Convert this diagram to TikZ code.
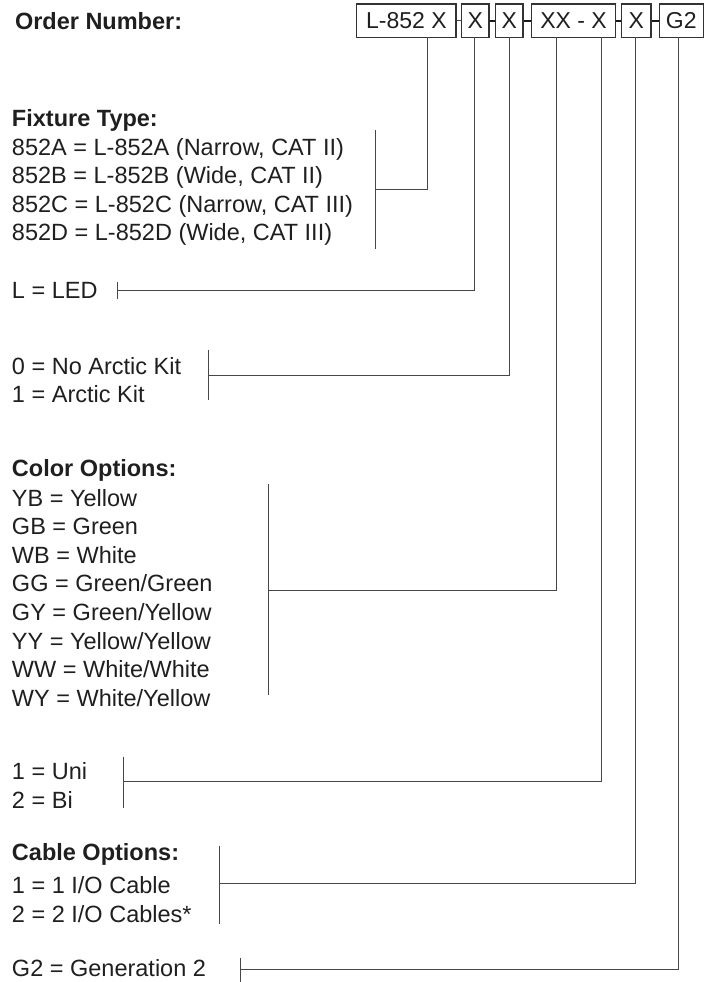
\documentclass[tikz,border=0pt]{standalone}
\usepackage{fontspec}
\setmainfont{Liberation Sans}
\begin{document}
\begin{tikzpicture}[x=1pt,y=-1pt,
  txt/.style={anchor=base west,inner sep=0pt,outer sep=0pt,text=black!88,
    font=\fontsize{23.5}{28.6}\selectfont},
  hdr/.style={txt,font=\fontsize{23.5}{28.6}\selectfont\bfseries},
  digit/.style={draw=black!80,line width=1.1pt,inner sep=0pt,minimum height=33.5pt,
    text=black!88,font=\fontsize{23}{28}\selectfont},
  lead/.style={draw=black!72,line width=1pt},
  joint/.style={draw=black!90,line width=1.8pt}]
\useasboundingbox (0,0) rectangle (708,982);
% order number boxes
\node[hdr] (ordl) at (15,29.3) {Order Number:};
\node[digit,minimum width=99.3pt] (b1) at (406.35,20.75) {L-852 X};
\node[digit,minimum width=27.3pt] (b2) at (475.35,20.75) {X};
\node[digit,minimum width=27.3pt] (b3) at (509.35,20.75) {X};
\node[digit,minimum width=84.2pt] (b4) at (573.6,20.75) {XX - X};
\node[digit,minimum width=29.3pt] (b5) at (636.35,20.75) {X};
\node[digit,minimum width=44pt] (b6) at (681.3,20.75) {G2};
\draw[lead] (b1) -- (b2);
\draw[joint] (b2) -- (b3);
\draw[joint] (b3) -- (b4);
\draw[joint] (b4) -- (b5);
\draw[joint] (b5) -- (b6);
% fixture type
\node[hdr] (fxh) at (12,126.7) {Fixture Type:};
\node[txt] (fx1) at (12,155) {852A = L-852A (Narrow, CAT II)};
\node[txt] (fx2) at (12,183.6) {852B = L-852B (Wide, CAT II)};
\node[txt] (fx3) at (12,212.2) {852C = L-852C (Narrow, CAT III)};
\node[txt] (fx4) at (12,240.8) {852D = L-852D (Wide, CAT III)};
\coordinate (fxT) at (375.7,130);
\coordinate (fxB) at (375.7,249.3);
\coordinate (fxM) at (375.7,189.3);
\coordinate (fxU) at (427.7,37.5);
\draw[lead] (fxT) -- (fxB);
\draw[lead] (fxM) -| (fxU);
% LED
\node[txt] (led) at (12,298) {L = LED};
\coordinate (ldT) at (117.3,282.3);
\coordinate (ldB) at (117.3,299);
\coordinate (ldM) at (117.3,290);
\coordinate (ldU) at (474.3,37.5);
\draw[lead] (ldT) -- (ldB);
\draw[lead] (ldM) -| (ldU);
% arctic kit
\node[txt] (ak0) at (12,374) {0 = No Arctic Kit};
\node[txt] (ak1) at (12,402.6) {1 = Arctic Kit};
\coordinate (akT) at (208.5,350);
\coordinate (akB) at (208.5,400);
\coordinate (akM) at (208.5,375.7);
\coordinate (akU) at (509.3,37.5);
\draw[lead] (akT) -- (akB);
\draw[lead] (akM) -| (akU);
% color options
\node[hdr] (coh) at (12,476.7) {Color Options:};
\node[txt] (co1) at (12,506) {YB = Yellow};
\node[txt] (co2) at (12,534.6) {GB = Green};
\node[txt] (co3) at (12,563.2) {WB = White};
\node[txt] (co4) at (12,591.8) {GG = Green/Green};
\node[txt] (co5) at (12,620.4) {GY = Green/Yellow};
\node[txt] (co6) at (12,649) {YY = Yellow/Yellow};
\node[txt] (co7) at (12,677.6) {WW = White/White};
\node[txt] (co8) at (12,706.2) {WY = White/Yellow};
\coordinate (coT) at (268.3,484);
\coordinate (coB) at (268.3,695);
\coordinate (coM) at (268.3,590.7);
\coordinate (coU) at (556.7,37.5);
\draw[lead] (coT) -- (coB);
\draw[lead] (coM) -| (coU);
% uni / bi
\node[txt] (ub1) at (12,779.5) {1 = Uni};
\node[txt] (ub2) at (12,808.3) {2 = Bi};
\coordinate (ubT) at (123.3,756.7);
\coordinate (ubB) at (123.3,808.3);
\coordinate (ubM) at (123.3,781);
\coordinate (ubU) at (601,37.5);
\draw[lead] (ubT) -- (ubB);
\draw[lead] (ubM) -| (ubU);
% cable options
\node[hdr] (cah) at (12,860.7) {Cable Options:};
\node[txt] (ca1) at (12,893) {1 = 1 I/O Cable};
\node[txt] (ca2) at (12,922) {2 = 2 I/O Cables*};
\coordinate (caT) at (219.3,846);
\coordinate (caB) at (219.3,924.3);
\coordinate (caM) at (219.3,883.3);
\coordinate (caU) at (635.7,37.5);
\draw[lead] (caT) -- (caB);
\draw[lead] (caM) -| (caU);
% generation
\node[txt] (g2) at (12,976.5) {G2 = Generation 2};
\coordinate (g2T) at (240,958);
\coordinate (g2B) at (240,982);
\coordinate (g2M) at (240,969.3);
\coordinate (g2U) at (678.3,37.5);
\draw[lead] (g2T) -- (g2B);
\draw[lead] (g2M) -| (g2U);
\end{tikzpicture}
\end{document}
